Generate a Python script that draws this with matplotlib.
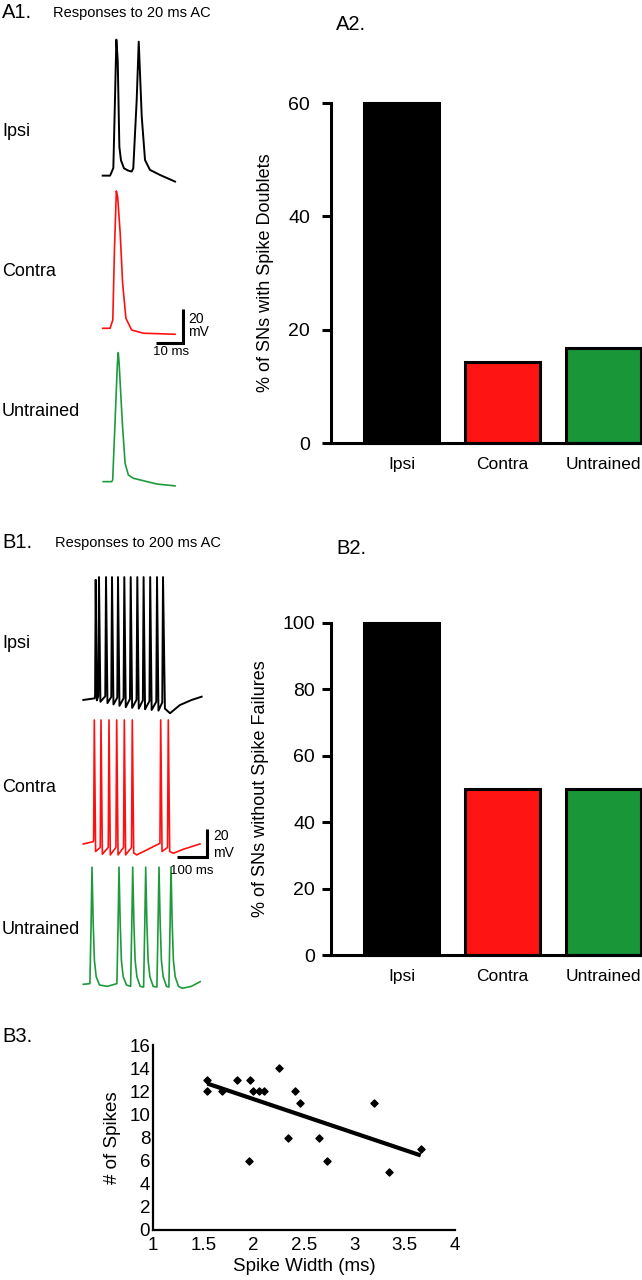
import matplotlib
matplotlib.use('Agg')
import matplotlib.pyplot as plt
import numpy as np

plt.rcParams['font.family'] = ['Liberation Sans', 'DejaVu Sans']

# ---------------- data ----------------
groups = ['Ipsi', 'Contra', 'Untrained']
pct_doublets = [60, 14.3, 16.7]
pct_no_failures = [100, 50, 50]
doublet_ticks = [0, 20, 40, 60]
failure_ticks = [0, 20, 40, 60, 80, 100]

spike_width_ms = [1.54, 1.54, 1.69, 1.83, 1.96, 1.99, 2.05, 2.10, 2.25,
                  2.41, 2.46, 2.34, 1.95, 2.65, 2.73, 3.20, 3.66, 3.34]
n_spikes = [13, 12, 12, 13, 13, 12, 12, 12, 14,
            12, 11, 8, 6, 8, 6, 11, 7, 5]
width_ticks = [1, 1.5, 2, 2.5, 3, 3.5, 4]
spike_ticks = [0, 2, 4, 6, 8, 10, 12, 14, 16]

# A1 traces: time (ms) / voltage (mV, relative to baseline)
a1_ipsi_t = [0, 2.7, 3.9, 4.5, 5.0, 5.5, 6.1, 6.7, 7.8, 9.3, 10.6, 11.2, 12.45,
             13.2, 14.3, 15.5, 17.3, 21.0, 26.5]
a1_ipsi_v = [0, 0, 4.5, 45, 80, 68, 17, 9, 4.3, 3.0, 2.4, 4.3, 44.5,
             78.8, 34.7, 9.2, 3.4, 0.4, -3.5]
a1_contra_t = [0, 2.7, 3.7, 4.3, 5.0, 5.5, 6.4, 7.3, 8.5, 10.6, 14.9, 26.5]
a1_contra_v = [0, 0, 4.9, 46, 80.8, 77, 56, 26.5, 5.9, -1, -2.9, -3.5]
a1_untr_t = [0.2, 3.3, 3.66, 5.4, 5.7, 6.0, 7.2, 8.2, 9.4, 11.2, 19.8, 26.5]
a1_untr_v = [0, 0, 1, 70, 75.9, 70, 34.3, 10.8, 3.9, 2, -1.4, -2.5]

# B1 traces: time (ms) / voltage (mV, relative to baseline)
b1_ipsi_t = [0, 38, 39.3, 41.3, 45, 49.8, 52.3, 57, 73.2, 75.7, 80.5, 93.2, 95.7,
             100.5, 113.2, 115.7, 120.5, 134.2, 136.7, 141.5, 155.5, 158, 162.8,
             177.5, 180, 184.8, 198.5, 201, 205.8, 220.5, 223, 227.8, 243.2,
             245.7, 250.5, 263.2, 265.7, 272, 289, 322, 361, 394.5]
b1_ipsi_v = [-0.7, 0.5, 3, 87, -1, 2, 89, -2, 2, 89, -3, 1.5, 89,
             -4, 1, 89, -5, 0.5, 89, -6, 0, 89, -6.5,
             -0.5, 89, -7, -1, 89, -7.5, -1.5, 89, -8, -2,
             89, -8.5, -2.5, 89, -7, -10.4, -4.4, -0.7, 1.7]
b1_contra_t = [0, 33.3, 34.5, 36.7, 41, 56.5, 59, 63.5, 83.2, 85.7, 90, 108.8,
               111.3, 115.8, 134.2, 136.7, 141, 160.8, 163.3, 168, 178, 211,
               244.7, 255.5, 258, 262.5, 280.8, 283.3, 288, 300, 333, 389]
b1_contra_v = [-0.5, 1.2, 3, 90, -6, -3, 90, -8, -3, 90, -8.5, -3,
               90, -8.5, -3, 90, -8.5, -3, 90, -7, -8.5, -4.9,
               -1.2, 0, 90, -6, -3, 90, -6, -7.3, -4.4, -0.5]
b1_untr_t = [0, 22, 26, 29, 33, 37, 43, 54, 80, 112, 116, 119, 123, 127, 133, 144,
             157.7, 161.7, 164.7, 168.7, 172.7, 178.7, 189.7, 201, 205, 208, 212,
             216, 222, 233, 245.3, 249.3, 252.3, 256.3, 260.3, 266.3, 277.3,
             285.3, 289.3, 292.3, 296.3, 300.3, 306.3, 317.3, 330, 360, 389.7]
b1_untr_v = [0.5, 1, 45, 86, 45, 18, 6, 0, -1, 1, 45, 86, 45, 18, 6, 0,
             -1, 45, 86, 45, 18, 6, -1, -1.5, 45, 86, 45,
             18, 6, -1, -1.5, 45, 86, 45, 18, 6, -1,
             -1.5, 45, 86, 45, 18, 6, -1, -2.4, -1, 2.4]

bar_colors = ['#000000', '#FF1414', '#199637']
trace_colors = ['#000000', '#FF1010', '#1E9A3C']

# ---------------- figure ----------------
W, H = 642, 1280
fig = plt.figure(figsize=(W / 100, H / 100), dpi=100)


def add_ax(l, t, r, b):
    return fig.add_axes([l / W, 1 - b / H, (r - l) / W, (b - t) / H])


def ftext(x, y, s, **kw):
    fig.text(x / W, 1 - y / H, s, **kw)


# ---- A1 traces ----
axA1 = add_ax(0, 30, 260, 500)
axA1.set_xlim(-102.7 / 2.73, (260 - 102.7) / 2.73)
axA1.set_ylim(0, 470 / 1.7)
axA1.axis('off')
for t, v, off, c, lw in [(a1_ipsi_t, a1_ipsi_v, 190.8, trace_colors[0], 1.4),
                         (a1_contra_t, a1_contra_v, 101.0, trace_colors[1], 1.2),
                         (a1_untr_t, a1_untr_v, 10.8, trace_colors[2], 1.2)]:
    axA1.plot(t, np.array(v) + off, color=c, lw=lw, solid_joinstyle='round')
cx, cy = 29.5, 92.4
axA1.plot([cx - 10, cx, cx], [cy, cy, cy + 20], color='k', lw=2.2,
          solid_joinstyle='miter', solid_capstyle='butt')
ftext(188, 325.5, '20\nmV', fontsize=10, ha='left', va='center', linespacing=0.85)
ftext(171, 352, '10 ms', fontsize=9.5, ha='center', va='center')

# ---- B1 traces ----
axB1 = add_ax(0, 520, 260, 1000)
axB1.set_xlim(-83.3 / 0.3, (260 - 83.3) / 0.3)
axB1.set_ylim(0, 480 / 1.37)
axB1.axis('off')
for t, v, off, c, lw in [(b1_ipsi_t, b1_ipsi_v, 219.7, trace_colors[0], 1.4),
                         (b1_contra_t, b1_contra_v, 114.4, trace_colors[1], 1.2),
                         (b1_untr_t, b1_untr_v, 10.95, trace_colors[2], 1.2)]:
    axB1.plot(t, np.array(v) + off, color=c, lw=lw, solid_joinstyle='round')
cx, cy = 411.3, 104.6
axB1.plot([cx - 100, cx, cx], [cy, cy, cy + 20], color='k', lw=2.2,
          solid_joinstyle='miter', solid_capstyle='butt')
ftext(213, 844.5, '20\nmV', fontsize=10, ha='left', va='center', linespacing=1.2)
ftext(192, 871, '100 ms', fontsize=9.5, ha='center', va='center')


# ---- bar charts ----
def bar_panel(ax, vals, ticks, ylabel, pad):
    x = np.arange(len(groups))
    bars = ax.bar(x, vals, width=0.74, color=bar_colors, edgecolor='k', linewidth=2.2)
    for b in bars:
        b.set_clip_on(False)
    ax.set_xlim(-0.698, 2.381)
    ax.set_ylim(0, ticks[-1])
    ax.set_yticks(ticks)
    ax.set_xticks(x, groups)
    for s in ['top', 'right']:
        ax.spines[s].set_visible(False)
    for s in ['left', 'bottom']:
        ax.spines[s].set_linewidth(2.2)
    ax.tick_params(axis='y', length=6.5, width=2.2, labelsize=14, pad=pad)
    ax.tick_params(axis='x', length=0, labelsize=12.5, pad=10)
    ax.set_ylabel(ylabel, fontsize=13, labelpad=10)


axA2 = add_ax(331, 103, 642, 443)
bar_panel(axA2, pct_doublets, doublet_ticks, '% of SNs with Spike Doublets', 8.5)
axB2 = add_ax(331, 622.7, 642, 955)
bar_panel(axB2, pct_no_failures, failure_ticks, '% of SNs without Spike Failures', 5)

# ---- B3 scatter ----
axB3 = add_ax(153, 1045, 455, 1230)
axB3.scatter(spike_width_ms, n_spikes, marker='D', s=13, color='k', zorder=3)
coef = np.polyfit(spike_width_ms, n_spikes, 1)
xx = np.array([min(spike_width_ms), max(spike_width_ms)])
axB3.plot(xx, np.polyval(coef, xx), color='k', lw=3, solid_capstyle='butt')
axB3.set_xlim(1, 4)
axB3.set_ylim(0, 16)
axB3.set_xticks(width_ticks, [f'{v:g}' for v in width_ticks])
axB3.set_yticks(spike_ticks)
for s in ['top', 'right']:
    axB3.spines[s].set_visible(False)
for s in ['left', 'bottom']:
    axB3.spines[s].set_linewidth(1.6)
axB3.tick_params(length=0, labelsize=13.5)
axB3.tick_params(axis='y', pad=2)
axB3.tick_params(axis='x', pad=5)
axB3.set_xlabel('Spike Width (ms)', fontsize=13.5, labelpad=3)
axB3.set_ylabel('# of Spikes', fontsize=13.5, labelpad=6)

# ---- panel / row labels ----
ftext(2, 13, 'A1.', fontsize=14.5, ha='left', va='center')
ftext(53, 13, 'Responses to 20 ms AC', fontsize=10.5, ha='left', va='center')
ftext(336, 24, 'A2.', fontsize=14.5, ha='left', va='center')
ftext(2, 543, 'B1.', fontsize=14.5, ha='left', va='center')
ftext(55, 543, 'Responses to 200 ms AC', fontsize=10.5, ha='left', va='center')
ftext(336, 549, 'B2.', fontsize=14.5, ha='left', va='center')
ftext(2, 1037, 'B3.', fontsize=14.5, ha='left', va='center')

for lbl, y in zip(groups, [132, 272, 411]):
    ftext(2, y, lbl, fontsize=13, ha='left', va='center')
for lbl, y in zip(groups, [644, 787, 930]):
    ftext(2, y, lbl, fontsize=13, ha='left', va='center')

fig.savefig('out.png', dpi=100)
